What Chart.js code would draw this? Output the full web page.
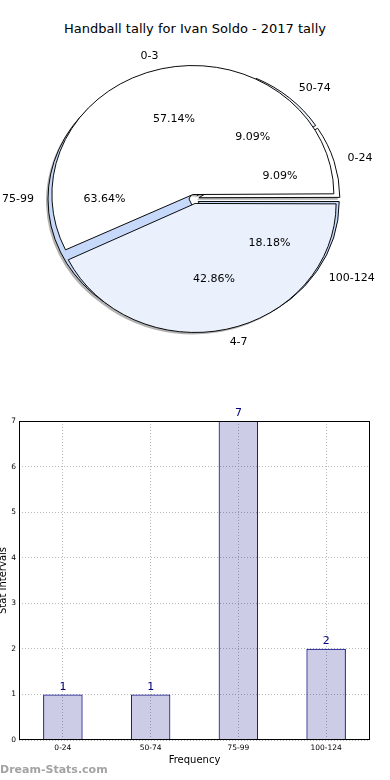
<!DOCTYPE html>
<html lang="en">
<head>
  <meta charset="UTF-8">
  <title>Handball tally for Ivan Soldo - 2017 tally</title>
  <script src="https://cdn.jsdelivr.net/npm/chart.js"></script>
  <style>
    html, body { margin: 0; padding: 0; background: #fff; }
    #page { position: relative; width: 390px; height: 780px; overflow: hidden; font-family: "DejaVu Sans", sans-serif; }
    #title { position: absolute; left: 0; top: 21px; width: 390px; text-align: center; font-size: 13px; color: #000; }
    #pieChart { position: absolute; left: 0; top: 41px; }
    #barChart { position: absolute; left: 0; top: 400px; }
    #mark { position: absolute; left: 0; top: 763px; font-size: 11px; font-weight: bold; color: #a3a3a3; }
  </style>
</head>
<body>
  <div id="page">
    <div id="title">Handball tally for Ivan Soldo - 2017 tally</div>
    <canvas id="pieChart" width="388" height="316"></canvas>
    <canvas id="barChart" width="390" height="380"></canvas>
    <div id="mark">Dream-Stats.com</div>
  </div>

  <script>
    // chart data
    const intervalLabels = ['0-24', '50-74', '75-99', '100-124'];
    const intervalCounts = [1, 1, 7, 2];
    const intervalColors = ['#ffffff', '#eef3fd', '#c6d9fa', '#c6d9fa'];
    const tallyLabels = ['0-3', '4-7'];
    const tallyCounts = [4, 3];
    const tallyColors = ['#ffffff', '#eaf1fd'];
    const yTicks = [0, 1, 2, 3, 4, 5, 6, 7];

    const FONT = 'DejaVu Sans';
    const RADIUS = 141;   // horizontal radius of the pie
    const SQUASH = 0.915; // matplotlib pie is drawn slightly flattened
    const OFFSET = 20;    // chart.js divides arc offset by 4
    const EXPLODE = OFFSET / 4;

    // chart.js goes clockwise from the top, matplotlib counter-clockwise from 3 o'clock
    const rev = a => a.slice().reverse();
    const pieSets = [
      { labels: rev(tallyLabels), values: rev(tallyCounts), colors: rev(tallyColors) },
      { labels: rev(intervalLabels), values: rev(intervalCounts), colors: rev(intervalColors) }
    ];

    const piePlugin = {
      id: 'piePlugin',
      afterUpdate(chart) {
        chart.data.datasets.forEach((ds, i) => {
          chart.getDatasetMeta(i).data.forEach(arc => {
            const fix = 1 - Math.sin(Math.min(Math.PI, arc.circumference));
            arc.outerRadius = RADIUS - EXPLODE * fix;
            arc.innerRadius = 0;
          });
        });
      },
      beforeDatasetsDraw(chart) {
        const ctx = chart.ctx;
        const c = chart.getDatasetMeta(0).data[0];
        ctx.save();
        ctx.translate(c.x, c.y);
        ctx.scale(1, SQUASH);
        ctx.translate(-c.x, -c.y);
        // shadow under the wedges
        ctx.beginPath();
        chart.data.datasets.forEach((ds, i) => {
          chart.getDatasetMeta(i).data.forEach(arc => {
            const mid = (arc.startAngle + arc.endAngle) / 2;
            const x = arc.x + Math.cos(mid) * EXPLODE - 2;
            const y = arc.y + Math.sin(mid) * EXPLODE + 2 / SQUASH;
            ctx.moveTo(x, y);
            ctx.arc(x, y, RADIUS, arc.startAngle, arc.endAngle);
            ctx.closePath();
          });
        });
        ctx.fillStyle = 'rgba(0,0,0,0.3)';
        ctx.fill();
      },
      afterDatasetsDraw(chart) {
        chart.ctx.restore();
      },
      afterDraw(chart) {
        const ctx = chart.ctx;
        ctx.save();
        ctx.fillStyle = '#000';
        ctx.font = '11px "' + FONT + '"';
        ctx.textBaseline = 'middle';
        pieSets.forEach((set, i) => {
          const total = set.values.reduce((a, b) => a + b, 0);
          chart.getDatasetMeta(i).data.forEach((arc, j) => {
            const mid = (arc.startAngle + arc.endAngle) / 2;
            const cs = Math.cos(mid), sn = Math.sin(mid);
            const r1 = 1.1 * RADIUS + EXPLODE;
            ctx.textAlign = cs > 0 ? 'left' : 'right';
            ctx.fillText(set.labels[j], arc.x + cs * r1, arc.y + sn * r1 * SQUASH);
            const r2 = 0.6 * RADIUS + EXPLODE;
            ctx.textAlign = 'center';
            ctx.fillText((set.values[j] / total * 100).toFixed(2) + '%', arc.x + cs * r2, arc.y + sn * r2 * SQUASH);
          });
        });
        ctx.restore();
      }
    };

    new Chart(document.getElementById('pieChart'), {
      type: 'pie',
      data: {
        labels: pieSets[1].labels,
        datasets: pieSets.map(s => ({
          data: s.values,
          backgroundColor: s.colors,
          borderColor: '#000',
          borderWidth: 1,
          offset: OFFSET
        }))
      },
      options: {
        responsive: false,
        animation: false,
        events: [],
        rotation: 90,
        layout: { padding: 0 },
        plugins: { legend: { display: false }, tooltip: { enabled: false } }
      },
      plugins: [piePlugin]
    });

    // bar chart
    const frameAndValues = {
      id: 'frameAndValues',
      afterDatasetsDraw(chart) {
        const ctx = chart.ctx;
        const a = chart.chartArea;
        ctx.save();
        ctx.strokeStyle = '#000';
        ctx.lineWidth = 1;
        ctx.strokeRect(a.left + 0.5, a.top + 0.5, a.right - a.left - 1, a.bottom - a.top - 1);
        ctx.fillStyle = '#000080';
        ctx.font = '11px "' + FONT + '"';
        ctx.textAlign = 'center';
        ctx.textBaseline = 'bottom';
        chart.getDatasetMeta(0).data.forEach((bar, i) => {
          ctx.fillText(String(intervalCounts[i]), bar.x, bar.y - 2);
        });
        ctx.restore();
      }
    };

    const gridOpts = { offset: false, color: '#b8b8b8', lineWidth: 1, drawTicks: false, tickLength: 0 };

    new Chart(document.getElementById('barChart'), {
      type: 'bar',
      data: {
        labels: intervalLabels,
        datasets: [{
          data: intervalCounts,
          backgroundColor: 'rgba(0,0,128,0.2)',
          borderColor: '#000080',
          borderWidth: 1,
          categoryPercentage: 1,
          barPercentage: 0.45
        }]
      },
      options: {
        responsive: false,
        animation: false,
        events: [],
        layout: { padding: { top: 21, right: 20, left: 0, bottom: 0 } },
        plugins: { legend: { display: false }, tooltip: { enabled: false } },
        scales: {
          x: {
            grid: gridOpts,
            border: { display: false, dash: [1, 2] },
            ticks: { font: { family: FONT, size: 7.5 }, color: '#000', padding: 4, maxRotation: 0 },
            title: { display: true, text: 'Frequency', color: '#000', font: { family: FONT, size: 10 }, padding: { top: 0, bottom: 14 } },
            afterFit(s) { s.height = 40; }
          },
          y: {
            min: yTicks[0],
            max: yTicks[yTicks.length - 1],
            afterBuildTicks(s) { s.ticks = yTicks.map(v => ({ value: v })); },
            grid: gridOpts,
            border: { display: false, dash: [1, 2] },
            ticks: { font: { family: FONT, size: 7.5 }, color: '#000', padding: 3 },
            title: { display: true, text: 'Stat Intervals', color: '#000', font: { family: FONT, size: 10 }, padding: { top: -3, bottom: 0 } },
            afterFit(s) { s.width = 19; }
          }
        }
      },
      plugins: [frameAndValues]
    });
  </script>
</body>
</html>
